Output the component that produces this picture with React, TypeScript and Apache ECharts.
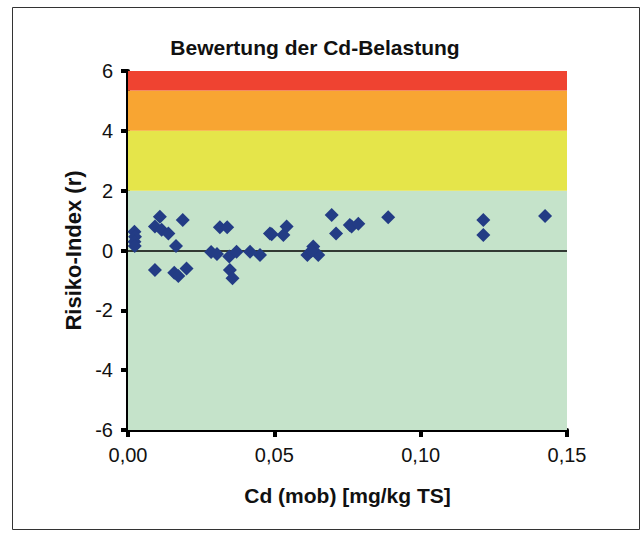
import React, { useEffect, useRef } from "react";
import * as echarts from "echarts";

const titleText = "Bewertung der Cd-Belastung";
const xAxisName = "Cd (mob) [mg/kg TS]";
const yAxisName = "Risiko-Index (r)";

const xValues = [
  0.0022, 0.0024, 0.0022, 0.0023,
  0.0109, 0.0092, 0.0115, 0.0138, 0.0187, 0.0164,
  0.0092, 0.0158, 0.0172, 0.02,
  0.0314, 0.0339, 0.0284, 0.0304, 0.0346, 0.0371, 0.0348, 0.0357,
  0.0417, 0.0451, 0.0485, 0.0491, 0.0531, 0.0542,
  0.0633, 0.0613, 0.065, 0.0627,
  0.0696, 0.0711, 0.0758, 0.0764, 0.0787, 0.0889,
  0.1214, 0.1214, 0.1425,
];
const yValues = [
  0.63, 0.46, 0.29, 0.15,
  1.13, 0.8, 0.69, 0.57, 1.02, 0.15,
  -0.65, -0.74, -0.85, -0.6,
  0.78, 0.78, -0.05, -0.12, -0.2, -0.04, -0.65, -0.93,
  -0.04, -0.15, 0.57, 0.54, 0.52, 0.8,
  0.13, -0.15, -0.15, -0.02,
  1.19, 0.57, 0.85, 0.8, 0.89, 1.11,
  1.02, 0.52, 1.15,
];

const xTicks = [0, 0.05, 0.1, 0.15];
const yTicks = [-6, -4, -2, 0, 2, 4, 6];

const bandLimits = [-6, 2, 4, 5.35, 6];
const bandColors = ["#c5e3ca", "#e5e54a", "#f8a532", "#ef4331"];

export default function App() {
  const ref = useRef<HTMLDivElement>(null);
  useEffect(() => {
    if (!ref.current) return;
    const chart = echarts.init(ref.current, undefined, { renderer: "svg" });
    const points = xValues.map((x, i) => [x, yValues[i]]);
    const bands = bandColors.map((c, i) => [
      { yAxis: bandLimits[i], itemStyle: { color: c, opacity: 1 } },
      { yAxis: bandLimits[i + 1] },
    ]);
    const fontFamily = "'Liberation Sans', Arial, sans-serif";
    chart.setOption({
      animation: false,
      backgroundColor: "#ffffff",
      textStyle: { fontFamily },
      title: {
        text: titleText,
        left: 310,
        top: 32,
        textAlign: "center",
        textStyle: { fontSize: 21, fontWeight: "bold", color: "#111", fontFamily },
      },
      graphic: [
        {
          type: "rect",
          shape: { x: 12.5, y: 7.5, width: 627, height: 522 },
          style: { fill: "none", stroke: "#333", lineWidth: 1 },
          z: 100,
        },
      ],
      grid: { left: 128, right: 77, top: 71, bottom: 105, containLabel: false },
      xAxis: {
        type: "value",
        min: xTicks[0],
        max: xTicks[xTicks.length - 1],
        interval: xTicks[1] - xTicks[0],
        name: xAxisName,
        nameLocation: "middle",
        nameGap: 55,
        nameTextStyle: { fontSize: 21, fontWeight: "bold", color: "#111", fontFamily },
        axisLine: { onZero: false, lineStyle: { color: "#000", width: 4 } },
        axisTick: { show: true, length: 7, lineStyle: { color: "#000", width: 4 } },
        axisLabel: {
          fontSize: 20,
          color: "#111",
          margin: 15,
          formatter: (v: number) => v.toFixed(2).replace(".", ","),
        },
        splitLine: { show: false },
      },
      yAxis: {
        type: "value",
        min: yTicks[0],
        max: yTicks[yTicks.length - 1],
        interval: yTicks[1] - yTicks[0],
        name: yAxisName,
        nameLocation: "middle",
        nameGap: 44,
        nameTextStyle: { fontSize: 22, fontWeight: "bold", color: "#111", fontFamily },
        axisLine: { onZero: false, lineStyle: { color: "#000", width: 4 } },
        axisTick: { show: true, length: 7, lineStyle: { color: "#000", width: 4 } },
        axisLabel: { fontSize: 20, color: "#111", margin: 15 },
        splitLine: { show: false },
      },
      series: [
        {
          type: "scatter",
          data: points,
          symbol: "diamond",
          symbolSize: 14,
          itemStyle: { color: "#233c85", opacity: 1 },
          z: 5,
          markArea: { silent: true, data: bands, z: 1 },
          markLine: {
            silent: true,
            symbol: ["none", "none"],
            label: { show: false },
            lineStyle: { color: "#000", width: 1.5, type: "solid" },
            data: [{ yAxis: 0 }],
          },
        },
      ],
    });
    return () => chart.dispose();
  }, []);
  return (
    <div
      ref={ref}
      style={{ position: "absolute", left: 0, top: 0, width: 644, height: 535 }}
    />
  );
}
